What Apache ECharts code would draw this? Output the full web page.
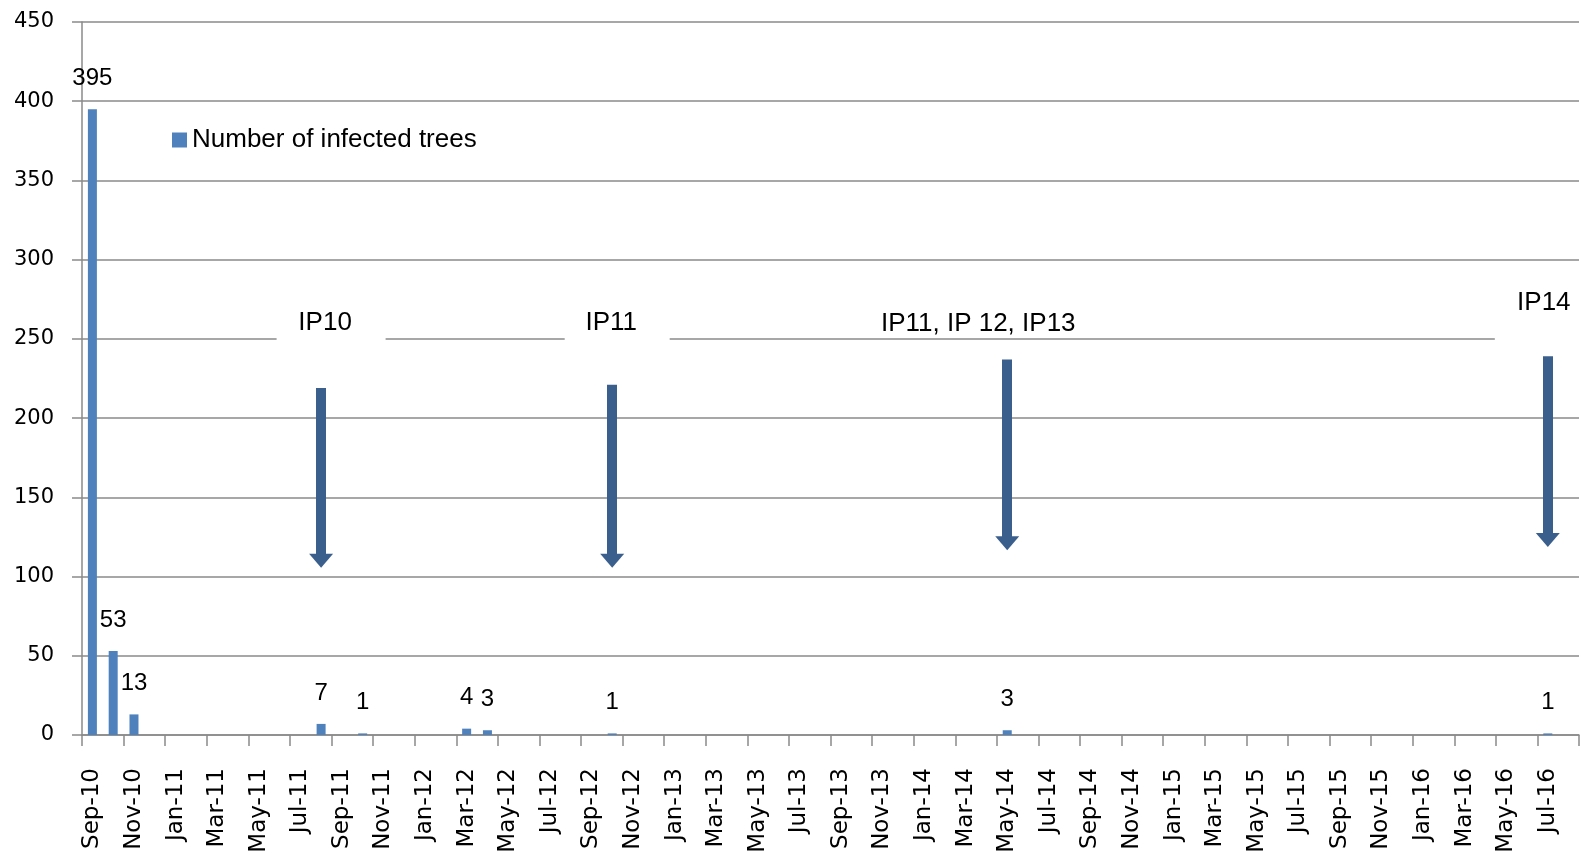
<!DOCTYPE html>
<html>
<head>
<meta charset="utf-8">
<title>Number of infected trees</title>
<script src="https://cdn.jsdelivr.net/npm/echarts@6/dist/echarts.min.js"></script>
<style>
    html, body { margin: 0; padding: 0; background: #fff; }
    #chart { width: 1581px; height: 858px; }
</style>
</head>
<body>
<div id="chart"></div>
<script>
    // monthly categories, Sep-10 .. Aug-16
    const months = [
        'Sep-10', 'Oct-10', 'Nov-10', 'Dec-10',
        'Jan-11', 'Feb-11', 'Mar-11', 'Apr-11', 'May-11', 'Jun-11', 'Jul-11', 'Aug-11', 'Sep-11', 'Oct-11', 'Nov-11', 'Dec-11',
        'Jan-12', 'Feb-12', 'Mar-12', 'Apr-12', 'May-12', 'Jun-12', 'Jul-12', 'Aug-12', 'Sep-12', 'Oct-12', 'Nov-12', 'Dec-12',
        'Jan-13', 'Feb-13', 'Mar-13', 'Apr-13', 'May-13', 'Jun-13', 'Jul-13', 'Aug-13', 'Sep-13', 'Oct-13', 'Nov-13', 'Dec-13',
        'Jan-14', 'Feb-14', 'Mar-14', 'Apr-14', 'May-14', 'Jun-14', 'Jul-14', 'Aug-14', 'Sep-14', 'Oct-14', 'Nov-14', 'Dec-14',
        'Jan-15', 'Feb-15', 'Mar-15', 'Apr-15', 'May-15', 'Jun-15', 'Jul-15', 'Aug-15', 'Sep-15', 'Oct-15', 'Nov-15', 'Dec-15',
        'Jan-16', 'Feb-16', 'Mar-16', 'Apr-16', 'May-16', 'Jun-16', 'Jul-16', 'Aug-16'
    ];

    // number of infected trees per month (null = none recorded)
    const infected = [
        395, 53, 13, null,
        null, null, null, null, null, null, null, 7, null, 1, null, null,
        null, null, 4, 3, null, null, null, null, null, 1, null, null,
        null, null, null, null, null, null, null, null, null, null, null, null,
        null, null, null, null, 3, null, null, null, null, null, null, null,
        null, null, null, null, null, null, null, null, null, null, null, null,
        null, null, null, null, null, null, 1, null
    ];

    // y axis ticks
    const yMin = 0;
    const yMax = 450;
    const yStep = 50;

    // intervention periods: label, month, arrow start / end value
    const ipNames = ['IP10', 'IP11', 'IP11, IP 12, IP13', 'IP14'];
    const ipMonths = ['Aug-11', 'Oct-12', 'May-14', 'Jul-16'];
    const ipArrowFrom = [219, 221, 237, 239];
    const ipArrowTo = [110, 110, 121, 123];
    const ipLevel = 250;

    const gridColor = '#8a8a8a';
    const txtFont = 'Liberation Sans';
    const axisFont = 'DejaVu Sans';

    let chartInstance = echarts.init(document.getElementById('chart'));

    // arrows pointing down at each intervention
    let arrows = ipMonths.map((m, i) => {
        return [
            { coord: [m, ipArrowFrom[i]], symbol: 'none' },
            { coord: [m, ipArrowTo[i]], symbol: 'triangle', symbolSize: [24, 14] }
        ];
    });

    // text boxes for the labels (white boxes break the 250 gridline)
    let boxes = [
        { coord: [ipMonths[0], ipLevel], symbolSize: [109, 44], symbolOffset: [10, -8],
          label: { formatter: ipNames[0], offset: [-6, -8] } },
        { coord: [ipMonths[1], ipLevel], symbolSize: [105, 44], symbolOffset: [5, -8],
          label: { formatter: ipNames[1], offset: [-6, -8] } },
        { coord: [ipMonths[2], ipLevel], symbolSize: [10, 10], symbolOffset: [0, 0],
          itemStyle: { color: 'rgba(255,255,255,0)' },
          label: { formatter: ipNames[2], offset: [-29, -15] } },
        { coord: [ipMonths[3], ipLevel], symbolSize: [86, 44], symbolOffset: [-10, -8],
          label: { formatter: ipNames[3], offset: [6, -28] } }
    ];

    let option = {
        animation: false,
        backgroundColor: '#fff',
        grid: {
            left: 82,
            right: 2,
            top: 22,
            bottom: 123
        },
        legend: {
            left: 167,
            top: 122,
            itemWidth: 15,
            itemHeight: 15,
            icon: 'rect',
            textStyle: {
                fontFamily: txtFont,
                fontSize: 26,
                color: '#000'
            },
            data: ['Number of infected trees']
        },
        xAxis: {
            type: 'category',
            data: months,
            boundaryGap: true,
            axisLine: { lineStyle: { color: gridColor, width: 1.5 } },
            axisTick: { show: true, interval: 1, length: 11, lineStyle: { color: gridColor, width: 1.5 } },
            axisLabel: {
                interval: 1,
                rotate: 90,
                margin: 33,
                fontFamily: axisFont,
                fontSize: 23,
                color: '#000'
            },
            splitLine: { show: false }
        },
        yAxis: {
            type: 'value',
            min: yMin,
            max: yMax,
            interval: yStep,
            axisLine: { show: true, lineStyle: { color: gridColor, width: 1.5 } },
            axisTick: { show: true, length: 10, lineStyle: { color: gridColor, width: 1.5 } },
            axisLabel: {
                margin: 28,
                fontFamily: axisFont,
                fontSize: 21,
                color: '#000'
            },
            splitLine: { lineStyle: { color: gridColor, width: 1.5 } }
        },
        series: [
            {
                name: 'Number of infected trees',
                type: 'bar',
                data: infected,
                barWidth: 9,
                itemStyle: { color: '#4f81bd' },
                label: {
                    show: true,
                    position: 'top',
                    distance: 19,
                    fontFamily: txtFont,
                    fontSize: 24,
                    color: '#000'
                },
                markLine: {
                    silent: true,
                    animation: false,
                    label: { show: false },
                    lineStyle: { color: '#3b5f8c', width: 10, type: 'solid' },
                    itemStyle: { color: '#3b5f8c' },
                    emphasis: { disabled: true },
                    data: arrows
                },
                markPoint: {
                    silent: true,
                    animation: false,
                    symbol: 'rect',
                    itemStyle: { color: '#fff' },
                    label: {
                        show: true,
                        position: 'inside',
                        fontFamily: txtFont,
                        fontSize: 26,
                        color: '#000'
                    },
                    emphasis: { disabled: true },
                    data: boxes
                }
            }
        ]
    };

    chartInstance.setOption(option);
</script>
</body>
</html>
